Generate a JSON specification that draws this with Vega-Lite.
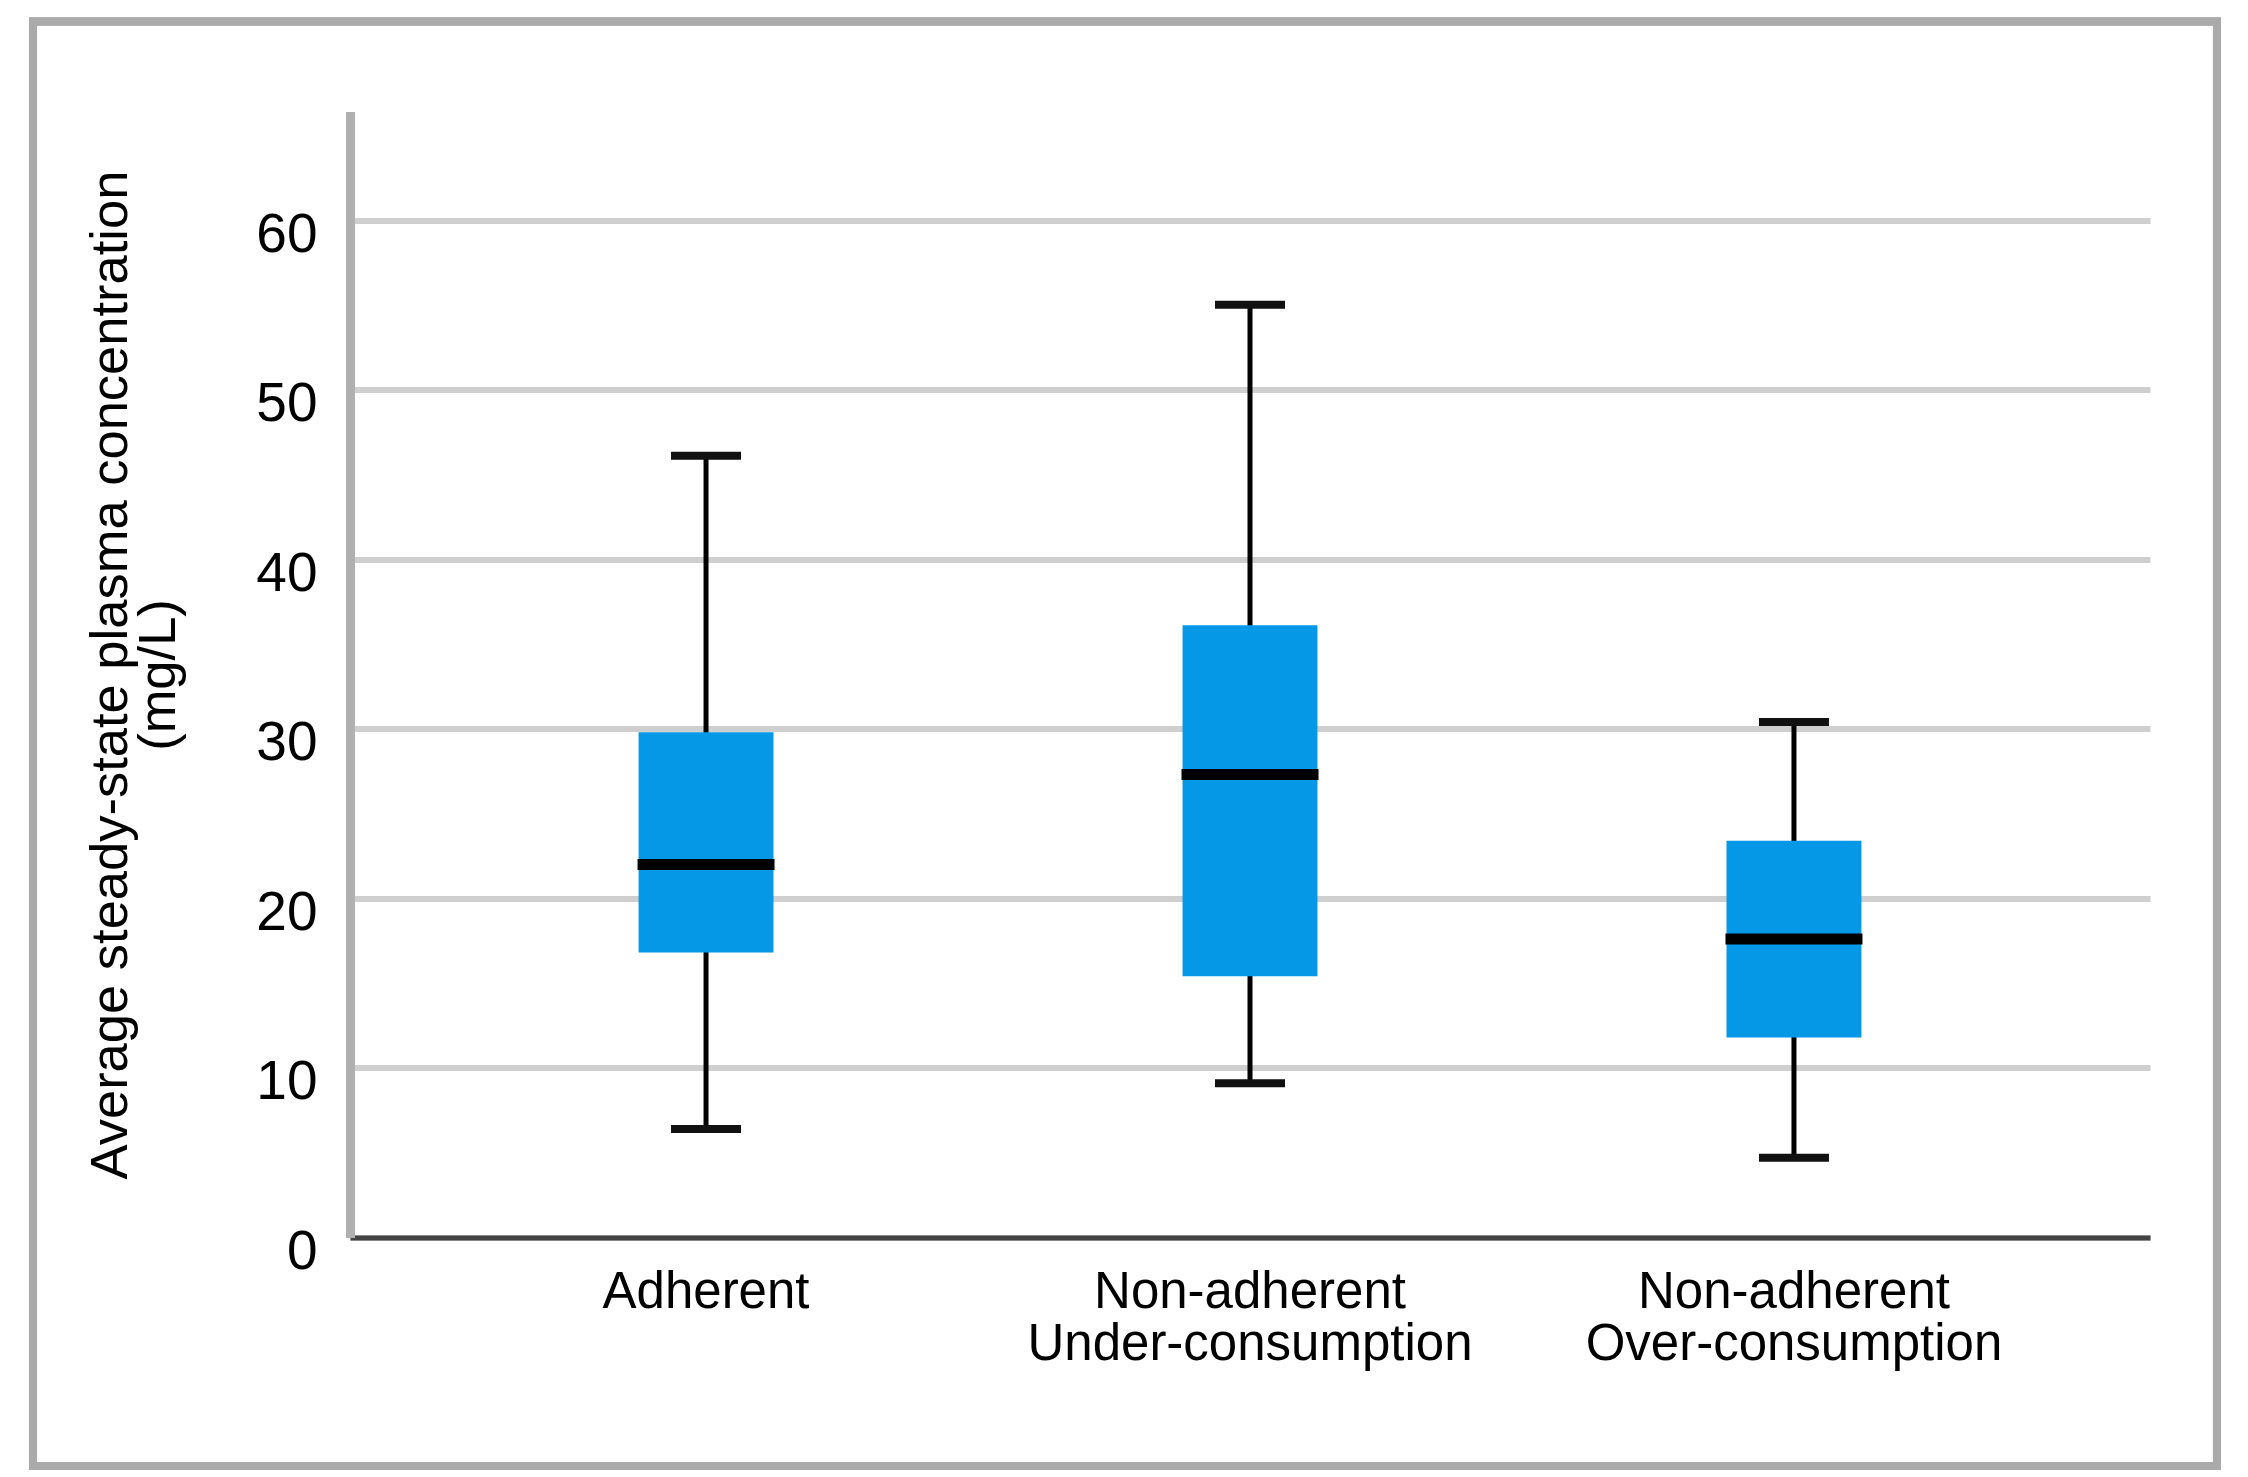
{
  "$schema": "https://vega.github.io/schema/vega-lite/v6.json",
  "autosize": {"type": "none"},
  "width": 1800,
  "height": 1126,
  "padding": {"left": 350, "top": 111.5, "right": 98, "bottom": 239.5},
  "background": "white",
  "config": {
    "view": {"stroke": null},
    "font": "Liberation Sans"
  },
  "data": {
    "values": [
      {"group": "Adherent", "lower": 6.4, "q1": 16.8, "median": 22.0, "q3": 29.8, "upper": 46.1},
      {"group": "Non-adherent|Under-consumption", "lower": 9.1, "q1": 15.4, "median": 27.3, "q3": 36.1, "upper": 55.0},
      {"group": "Non-adherent|Over-consumption", "lower": 4.7, "q1": 11.8, "median": 17.6, "q3": 23.4, "upper": 30.4}
    ]
  },
  "resolve": {"scale": {"x": "independent"}, "axis": {"x": "independent"}},
  "layer": [
    {
      "mark": {"type": "rect", "fill": "white", "fillOpacity": 0, "stroke": "#aaaaaa", "strokeWidth": 8},
      "encoding": {
        "x": {"datum": -0.1761, "type": "quantitative", "scale": {"domain": [0, 1], "nice": false, "zero": false}, "axis": null},
        "x2": {"datum": 1.0372},
        "y": {"datum": 71.71, "type": "quantitative"},
        "y2": {"datum": -13.47}
      }
    },
    {
      "layer": [
        {
          "mark": {"type": "rule", "color": "#000000", "strokeWidth": 5, "opacity": 1},
          "encoding": {
            "x": {
              "field": "group", "type": "nominal", "sort": null,
              "scale": {"type": "band", "paddingInner": 0.752, "paddingOuter": 0.5305},
              "axis": {
                "title": null,
                "labelExpr": "split(datum.label, '|')",
                "labelFontSize": 51,
                "labelLineHeight": 52,
                "labelColor": "#000000",
                "labelAngle": 0,
                "labelPadding": 30,
                "labelLimit": 0,
                "ticks": false,
                "tickSize": 0,
                "domainColor": "#444444",
                "domainWidth": 5,
                "grid": false
              }
            },
            "y": {
              "field": "lower", "type": "quantitative",
              "scale": {"domain": [0, 66.4], "nice": false, "zero": true},
              "axis": {
                "title": ["Average steady-state plasma concentration", "(mg/L)"],
                "titleFontSize": 52.5,
                "titleFontWeight": "normal",
                "titleLineHeight": 48,
                "titleColor": "#000000",
                "titlePadding": 70,
                "titleLimit": 0,
                "values": [0, 10, 20, 30, 40, 50, 60],
                "labelFontSize": 55,
                "labelColor": "#000000",
                "labelPadding": 33,
                "labelOffset": 14,
                "ticks": false,
                "tickSize": 0,
                "domainColor": "#b0b0b0",
                "domainWidth": 9,
                "grid": true,
                "gridColor": "#cfcfcf",
                "gridWidth": 6
              }
            },
            "y2": {"field": "upper"}
          }
        },
        {
          "mark": {"type": "bar", "color": "#0598e6", "opacity": 1},
          "encoding": {
            "x": {"field": "group", "type": "nominal", "sort": null},
            "y": {"field": "q1", "type": "quantitative"},
            "y2": {"field": "q3"}
          }
        },
        {
          "mark": {"type": "tick", "color": "#000000", "size": 137, "thickness": 11, "opacity": 1},
          "encoding": {
            "x": {"field": "group", "type": "nominal", "sort": null},
            "y": {"field": "median", "type": "quantitative"}
          }
        },
        {
          "mark": {"type": "tick", "color": "#111111", "size": 70, "thickness": 8, "opacity": 1},
          "encoding": {
            "x": {"field": "group", "type": "nominal", "sort": null},
            "y": {"field": "upper", "type": "quantitative"}
          }
        },
        {
          "mark": {"type": "tick", "color": "#111111", "size": 70, "thickness": 8, "opacity": 1},
          "encoding": {
            "x": {"field": "group", "type": "nominal", "sort": null},
            "y": {"field": "lower", "type": "quantitative"}
          }
        }
      ]
    }
  ]
}
